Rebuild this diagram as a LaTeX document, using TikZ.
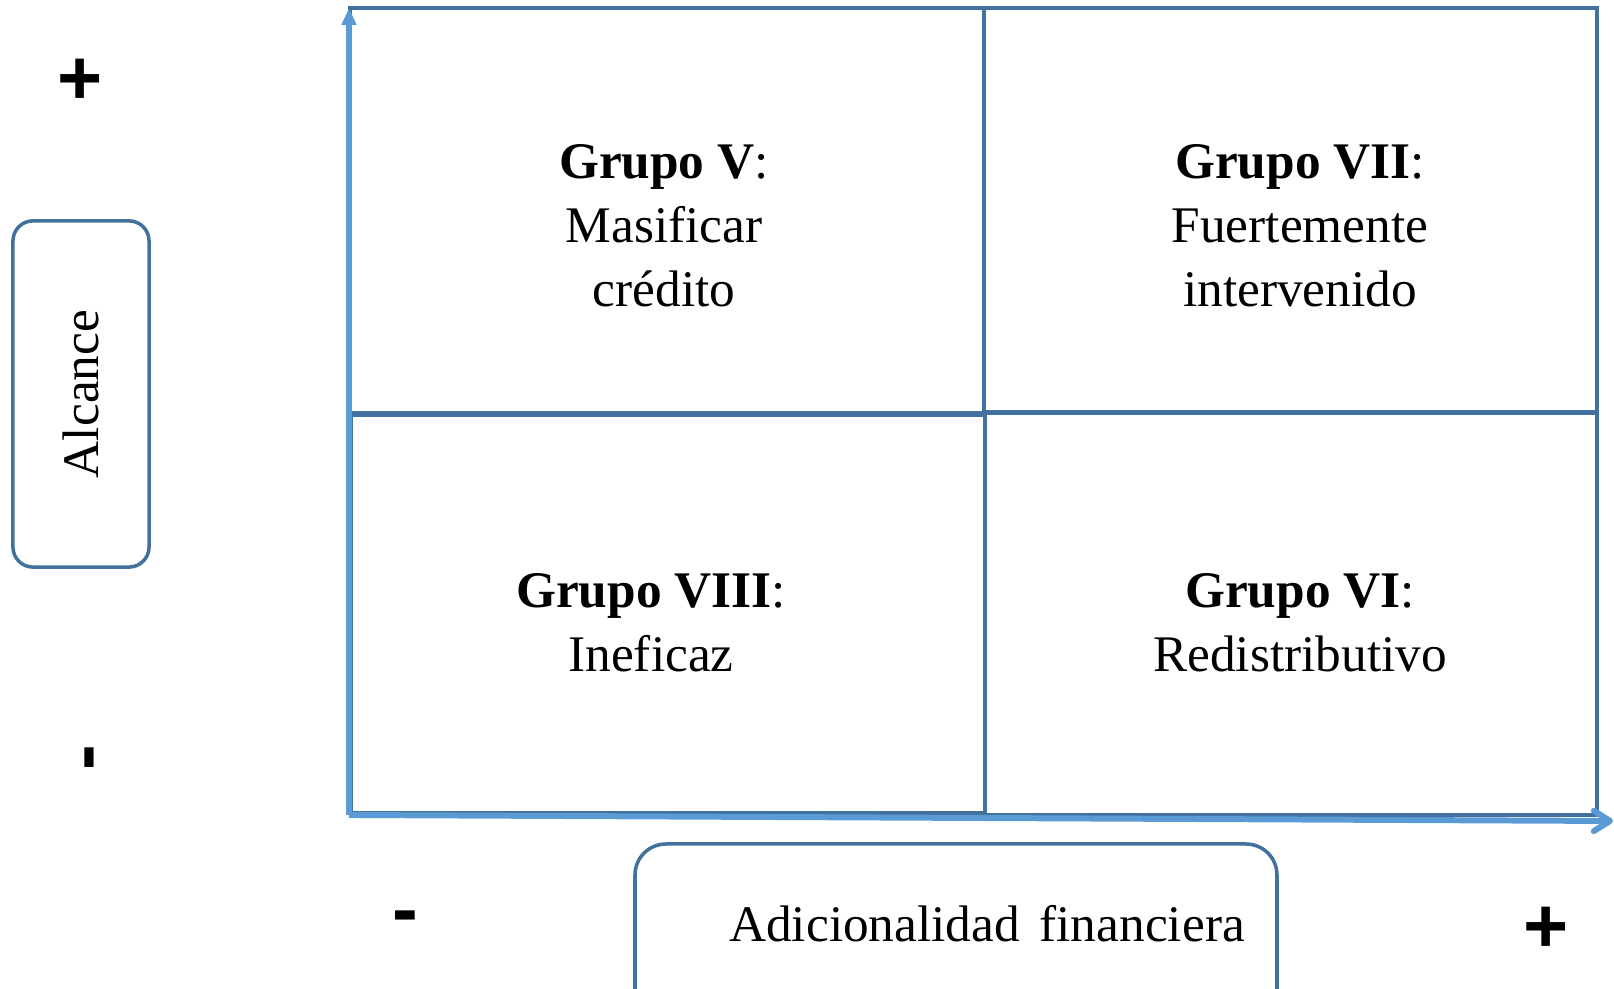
\documentclass[tikz,border=0pt]{standalone}
\usepackage{fontspec}
\setmainfont{Liberation Serif}
\newfontfamily\signfont{Liberation Sans}
\usetikzlibrary{arrows.meta}
\definecolor{axisblue}{HTML}{5B9BD5}
\definecolor{lineblue}{HTML}{41719C}

\begin{document}
\begin{tikzpicture}[x=0.01cm,y=-0.01cm,
  quad/.style={draw=lineblue,line width=1pt},
  axis/.style={draw=axisblue,line width=1.7pt},
  lbl/.style={align=center,font=\fontsize{14.6}{18.2}\selectfont},
  sign/.style={inner sep=0pt,font=\signfont\bfseries\fontsize{22}{22}\selectfont},
  tag/.style={draw=lineblue,line width=1pt}]
\useasboundingbox (0,0) rectangle (1614,989);
% quadrants
\draw[quad] (350,8) rectangle (984,413);
\draw[quad] (351,415) rectangle (985,813);
\draw[quad] (984,8) rectangle (1597,412);
\draw[quad] (985,413) rectangle (1597,815);
% axes
\coordinate (o) at (349,815);
\coordinate (ytop) at (349,8);
\coordinate (xend) at (1613,821);
\draw[axis,-{Triangle[width=4pt,length=4.8pt]}] (o) -- (ytop);
\draw[axis,-{Straight Barb[round,width=5.8pt,length=4.6pt]}] (o) -- (xend);
% groups
\node[lbl] (g5) at (664,226) {\textbf{Grupo V}:\\Masificar\\crédito};
\node[lbl] (g7) at (1300,226) {\textbf{Grupo VII}:\\Fuertemente\\intervenido};
\node[lbl] (g8) at (651,623) {\textbf{Grupo VIII}:\\Ineficaz};
\node[lbl] (g6) at (1300,623) {\textbf{Grupo VI}:\\Redistributivo};
% axis labels
\node[tag,lbl,rotate=90,rounded corners=0.2cm,minimum width=3.46cm,minimum height=1.36cm] (alcance) at (81,394) {Alcance};
\draw[tag,rounded corners=0.31cm] (635,1060) -- (635,844) -- (1277,844) -- (1277,1060);
\node[lbl] (adic) at (987,924) {Adicionalidad\hspace{0.38em}financiera};
% signs
\node[sign] (ymas) at (80,82) {+};
\node[sign,rotate=90] (ymenos) at (97,758) {-};
\node[sign] (xmenos) at (405,923) {-};
\node[sign] (xmas) at (1546,930) {+};
\end{tikzpicture}
\end{document}
